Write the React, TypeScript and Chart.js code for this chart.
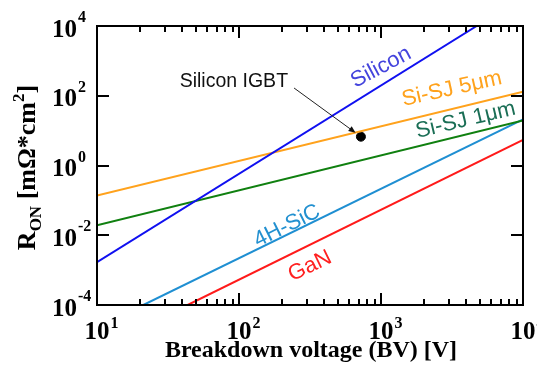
import React, { useEffect, useRef } from "react";
import { Chart, registerables } from "chart.js";
Chart.register(...registerables);

// ---- axis ranges & ticks ----
const X_MIN = 10;
const X_MAX = 10000;
const Y_MIN = 1e-4;
const Y_MAX = 1e4;
const xMajorTicks = [10, 100, 1000, 10000];
const xTickExponents = ["1", "2", "3", "4"];
const yMajorTicks = [1e-4, 1e-2, 1, 1e2, 1e4];
const yTickExponents = ["-4", "-2", "0", "2", "4"];

// ---- series (breakdown voltage [V] -> R_on [mOhm*cm2]) ----
const seriesNames = ["Silicon", "Si-SJ 5μm", "Si-SJ 1μm", "4H-SiC", "GaN"];
const siliconBV = [10, 4720];
const siliconRon = [1.7e-3, 1e4];
const sj5BV = [10, 10000];
const sj5Ron = [0.138, 130];
const sj1BV = [10, 10000];
const sj1Ron = [0.0194, 19.5];
const sicBV = [21.2, 10000];
const sicRon = [1e-4, 21];
const ganBV = [43.5, 10000];
const ganRon = [1e-4, 5.4];
const igbtBV = [722];
const igbtRon = [6.7];

// ---- label anchors (data coords) ----
const labelBV = [1000, 3160, 3950, 218, 316];
const labelRon = [650, 156, 20, 0.0184, 1.3e-3];
const labelAngles = [-28, -12.5, -13.5, -26.5, -26];
const igbtLabel = "Silicon IGBT";
const igbtLabelBV = 92;
const igbtLabelRon = 248;

const lineColors = ["#1010f0", "#ffa21c", "#108010", "#1f8fd2", "#ff1a1a"];
const textColors = ["#4444dd", "#ffa21c", "#1a6e55", "#2290d0", "#ff2020"];

const SERIF = '"Liberation Serif", "Times New Roman", serif';
const SANS = '"Liberation Sans", Arial, sans-serif';

const decor = {
  id: "decor",
  afterDraw(chart: any) {
    const { ctx, chartArea: a, scales } = chart;
    const xs = scales.x;
    const ys = scales.y;
    ctx.save();

    // series labels
    ctx.textAlign = "center";
    ctx.textBaseline = "middle";
    ctx.font = `22px ${SANS}`;
    seriesNames.forEach((name, i) => {
      const px = xs.getPixelForValue(labelBV[i]);
      const py = ys.getPixelForValue(labelRon[i]);
      ctx.save();
      ctx.translate(px, py);
      ctx.rotate((labelAngles[i] * Math.PI) / 180);
      ctx.fillStyle = textColors[i];
      ctx.fillText(name, 0, 0);
      ctx.restore();
    });

    // IGBT label + arrow
    ctx.font = `19.5px ${SANS}`;
    ctx.fillStyle = "#111";
    const lx = xs.getPixelForValue(igbtLabelBV);
    const ly = ys.getPixelForValue(igbtLabelRon);
    ctx.fillText(igbtLabel, lx, ly);
    const lw = ctx.measureText(igbtLabel).width;
    const sx = lx + lw / 2 + 6;
    const sy = ly + 6;
    const cx = xs.getPixelForValue(igbtBV[0]);
    const cy = ys.getPixelForValue(igbtRon[0]);
    const dx = cx - sx;
    const dy = cy - sy;
    const len = Math.hypot(dx, dy);
    const ux = dx / len;
    const uy = dy / len;
    const tx = cx - ux * 6.6;
    const ty = cy - uy * 6.6;
    ctx.strokeStyle = "#222";
    ctx.lineWidth = 1;
    ctx.beginPath();
    ctx.moveTo(sx, sy);
    ctx.lineTo(tx - ux * 5, ty - uy * 5);
    ctx.stroke();
    ctx.fillStyle = "#111";
    ctx.beginPath();
    ctx.moveTo(tx, ty);
    ctx.lineTo(tx - ux * 7 - uy * 3, ty - uy * 7 + ux * 3);
    ctx.lineTo(tx - ux * 7 + uy * 3, ty - uy * 7 - ux * 3);
    ctx.closePath();
    ctx.fill();

    // frame
    ctx.strokeStyle = "#000";
    ctx.lineWidth = 2;
    ctx.strokeRect(a.left, a.top, a.right - a.left, a.bottom - a.top);

    // x ticks (inward, top & bottom)
    ctx.beginPath();
    for (let k = 1; k < 4; k++) {
      for (let m = 1; m <= 9; m++) {
        const v = m * Math.pow(10, k);
        const p = Math.round(xs.getPixelForValue(v));
        const L = m === 1 ? 12 : 6;
        ctx.moveTo(p, a.bottom);
        ctx.lineTo(p, a.bottom - L);
        ctx.moveTo(p, a.top);
        ctx.lineTo(p, a.top + L);
      }
    }
    // y ticks (major only, both sides)
    yMajorTicks.forEach((v) => {
      const p = Math.round(ys.getPixelForValue(v));
      ctx.moveTo(a.left, p);
      ctx.lineTo(a.left + 12, p);
      ctx.moveTo(a.right, p);
      ctx.lineTo(a.right - 12, p);
    });
    ctx.stroke();

    // tick labels
    ctx.fillStyle = "#000";
    ctx.textBaseline = "alphabetic";
    ctx.textAlign = "left";
    xMajorTicks.forEach((v, i) => {
      const p = xs.getPixelForValue(v);
      ctx.font = `bold 25px ${SERIF}`;
      const w = ctx.measureText("10").width;
      ctx.fillText("10", p - w / 2, a.bottom + 34);
      ctx.font = `bold 16px ${SERIF}`;
      ctx.fillText(xTickExponents[i], p + w / 2 + 1, a.bottom + 23);
    });
    yMajorTicks.forEach((v, i) => {
      const p = ys.getPixelForValue(v);
      ctx.font = `bold 25px ${SERIF}`;
      const w = ctx.measureText("10").width;
      ctx.fillText("10", a.left - 20 - w, p + 10.5);
      ctx.font = `bold 16px ${SERIF}`;
      ctx.fillText(yTickExponents[i], a.left - 19, p - 4);
    });

    // x title
    ctx.font = `bold 24px ${SERIF}`;
    ctx.textAlign = "center";
    ctx.fillText("Breakdown voltage (BV) [V]", (a.left + a.right) / 2 + 1, 357);

    // y title (rotated, with sub/superscripts)
    const pieces: [string, number, number][] = [
      ["R", 26, 0],
      ["ON", 17, 6],
      [" [mΩ*cm", 26, 0],
      ["2", 17, -11],
      ["]", 26, 0],
    ];
    ctx.textAlign = "left";
    let total = 0;
    pieces.forEach(([t, s]) => {
      ctx.font = `bold ${s}px ${SERIF}`;
      total += ctx.measureText(t).width;
    });
    ctx.save();
    ctx.translate(35, (a.top + a.bottom) / 2 + 2);
    ctx.rotate(-Math.PI / 2);
    let x = -total / 2;
    pieces.forEach(([t, s, off]) => {
      ctx.font = `bold ${s}px ${SERIF}`;
      ctx.fillText(t, x, off);
      x += ctx.measureText(t).width;
    });
    ctx.restore();

    ctx.restore();
  },
};

export default function App() {
  const ref = useRef<HTMLCanvasElement>(null);
  useEffect(() => {
    const canvas = ref.current;
    if (!canvas) return;
    const mk = (xv: number[], yv: number[]) => xv.map((x, i) => ({ x, y: yv[i] }));
    const seriesData = [
      mk(siliconBV, siliconRon),
      mk(sj5BV, sj5Ron),
      mk(sj1BV, sj1Ron),
      mk(sicBV, sicRon),
      mk(ganBV, ganRon),
    ];
    const datasets: any[] = seriesData.map((d, i) => ({
      label: seriesNames[i],
      data: d,
      borderColor: lineColors[i],
      borderWidth: 2,
      pointRadius: 0,
      fill: false,
      tension: 0,
    }));
    datasets.push({
      label: igbtLabel,
      data: mk(igbtBV, igbtRon),
      showLine: false,
      pointRadius: 4.5,
      pointBackgroundColor: "#000",
      pointBorderColor: "#000",
      borderColor: "#000",
    });
    const chart = new Chart(canvas, {
      type: "line",
      data: { datasets },
      options: {
        responsive: false,
        animation: false,
        devicePixelRatio: 1,
        layout: { padding: { left: 97, right: 14, top: 26, bottom: 62 } },
        plugins: { legend: { display: false }, tooltip: { enabled: false } },
        scales: {
          x: { type: "logarithmic", min: X_MIN, max: X_MAX, display: false },
          y: { type: "logarithmic", min: Y_MIN, max: Y_MAX, display: false },
        },
      },
      plugins: [decor],
    } as any);
    return () => chart.destroy();
  }, []);
  return (
    <div style={{ position: "absolute", left: 0, top: 0, width: 537, height: 367, background: "#fff" }}>
      <canvas ref={ref} width={537} height={367} style={{ display: "block" }} />
    </div>
  );
}
